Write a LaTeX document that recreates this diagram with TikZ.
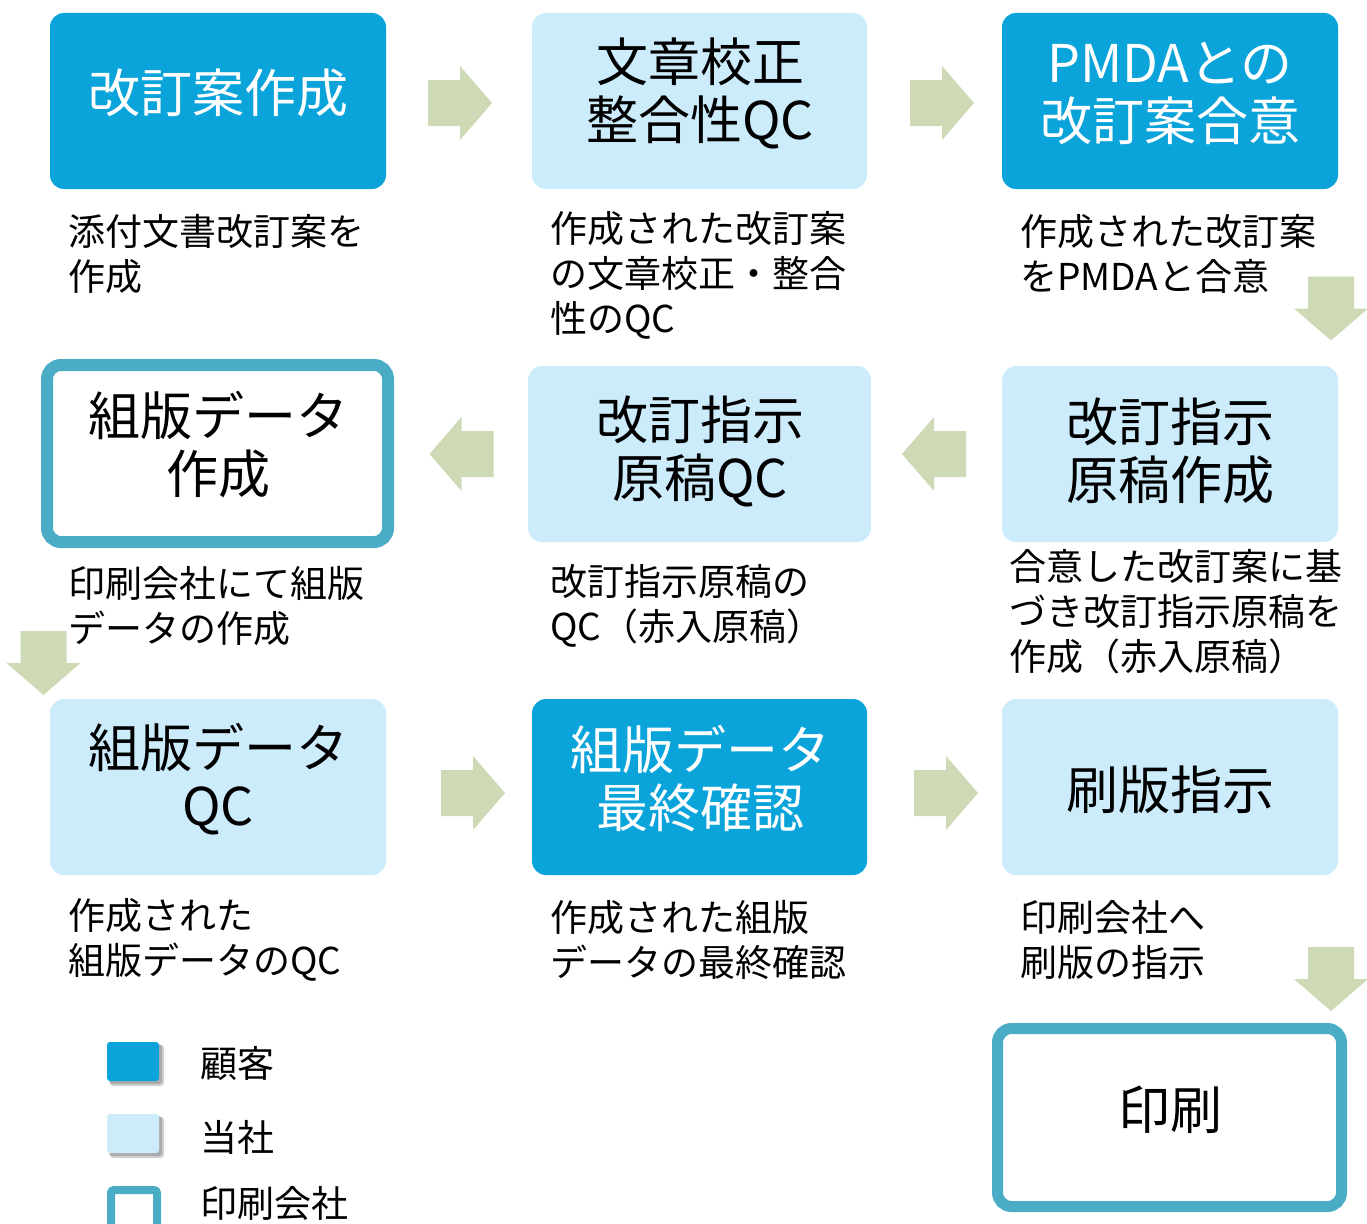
\documentclass[tikz,border=0pt]{standalone}
\usepackage{fontspec}
\setmainfont{Noto Sans CJK JP}
\definecolor{custblue}{HTML}{0AA3DA}
\definecolor{ourblue}{HTML}{CCECFC}
\definecolor{printline}{HTML}{4BACC6}
\definecolor{arrowgreen}{HTML}{CDDAB5}
\tikzset{
  box/.style={rounded corners=14pt, minimum width=336pt, minimum height=176pt, inner sep=0pt},
  custbox/.style={box, fill=custblue},
  ourbox/.style={box, fill=ourblue},
  printbox/.style={rounded corners=14pt, draw=printline, fill=white, inner sep=0pt},
  title/.style={align=center, font=\fontsize{52}{58}\selectfont, inner sep=0pt},
  desc/.style={align=left, anchor=west, font=\fontsize{37}{45}\selectfont, inner sep=0pt},
  legtext/.style={anchor=west, font=\fontsize{37}{45}\selectfont, inner sep=0pt},
  blockarrow/.pic={\fill[arrowgreen] (-32,-23) -- (0,-23) -- (0,-37) -- (32,0) -- (0,37) -- (0,23) -- (-32,23) -- cycle;}
}
\begin{document}
\begin{tikzpicture}[x=1pt,y=-1pt]
\useasboundingbox (0,0) rectangle (1367,1223);

% boxes
\node[custbox] (a) at (218,101) {};
\node[ourbox, minimum width=335pt] (b) at (699.5,101) {};
\node[custbox] (c) at (1170,101) {};
\node[printbox, line width=12pt, minimum width=341pt, minimum height=177pt] (d) at (217.5,453.5) {};
\node[ourbox, minimum width=343pt] (e) at (699.5,454) {};
\node[ourbox] (f) at (1170,454) {};
\node[ourbox] (g) at (218,787) {};
\node[custbox, minimum width=335pt] (h) at (699.5,787) {};
\node[ourbox] (i) at (1170,787) {};
\node[printbox, line width=11pt, minimum width=344pt, minimum height=178pt] (p) at (1169.5,1117.5) {};

% titles
\node[title, text=white] (ta) at (218,93) {改訂案作成};
\node[title] (tb) at (700,93) {文章校正\\整合性QC};
\node[title, text=white] (tc) at (1170,93) {PMDAとの\\改訂案合意};
\node[title] (td) at (218,445) {組版データ\\作成};
\node[title] (te) at (700,451) {改訂指示\\原稿QC};
\node[title] (tf) at (1170,451) {改訂指示\\原稿作成};
\node[title] (tg) at (218,779) {組版データ\\QC};
\node[title, text=white] (th) at (700,779) {組版データ\\最終確認};
\node[title] (ti) at (1170,790) {刷版指示};
\node[title] (tp) at (1170,1110) {印刷};

% descriptions
\node[desc] (da) at (68,254) {添付文書改訂案を\\作成};
\node[desc] (db) at (550,275) {作成された改訂案\\の文章校正・整合\\性のQC};
\node[desc] (dc) at (1020,254) {作成された改訂案\\をPMDAと合意};
\node[desc] (dd) at (68,606) {印刷会社にて組版\\データの作成};
\node[desc] (de) at (550,606) {改訂指示原稿の\\QC（赤入原稿）};
\node[desc] (df) at (1009,612) {合意した改訂案に基\\づき改訂指示原稿を\\作成（赤入原稿）};
\node[desc] (dg) at (68,940) {作成された\\組版データのQC};
\node[desc] (dh) at (550,940) {作成された組版\\データの最終確認};
\node[desc] (di) at (1020,940) {印刷会社へ\\刷版の指示};

% flow arrows
\pic (ab) at (460,103) {blockarrow};
\pic (bc) at (942,103) {blockarrow};
\pic[rotate=-90] (cf) at (1331,308.5) {blockarrow};
\pic[rotate=180] (fe) at (934,454) {blockarrow};
\pic[rotate=180] (ed) at (461.5,454) {blockarrow};
\pic[rotate=-90] (dg) at (43.5,663) {blockarrow};
\pic (gh) at (473,793) {blockarrow};
\pic (hi) at (946,793) {blockarrow};
\pic[rotate=-90] (ip) at (1331,979) {blockarrow};

% legend
\fill[black, opacity=0.18, rounded corners=3pt] (110,1045) rectangle (164,1086);
\fill[black, opacity=0.18, rounded corners=3pt] (109,1044) rectangle (162,1084);
\fill[custblue, rounded corners=3pt] (107,1042) rectangle (159,1081);
\fill[black, opacity=0.18, rounded corners=3pt] (110,1117) rectangle (164,1158);
\fill[black, opacity=0.18, rounded corners=3pt] (109,1116) rectangle (162,1156);
\fill[ourblue, rounded corners=3pt] (107,1114) rectangle (159,1153);
\draw[printline, line width=8pt, rounded corners=3pt, fill=white] (111,1190) rectangle (157,1236);
\node[legtext] (l1) at (200,1063) {顧客};
\node[legtext] (l2) at (200,1137) {当社};
\node[legtext] (l3) at (200,1203) {印刷会社};
\end{tikzpicture}
\end{document}
